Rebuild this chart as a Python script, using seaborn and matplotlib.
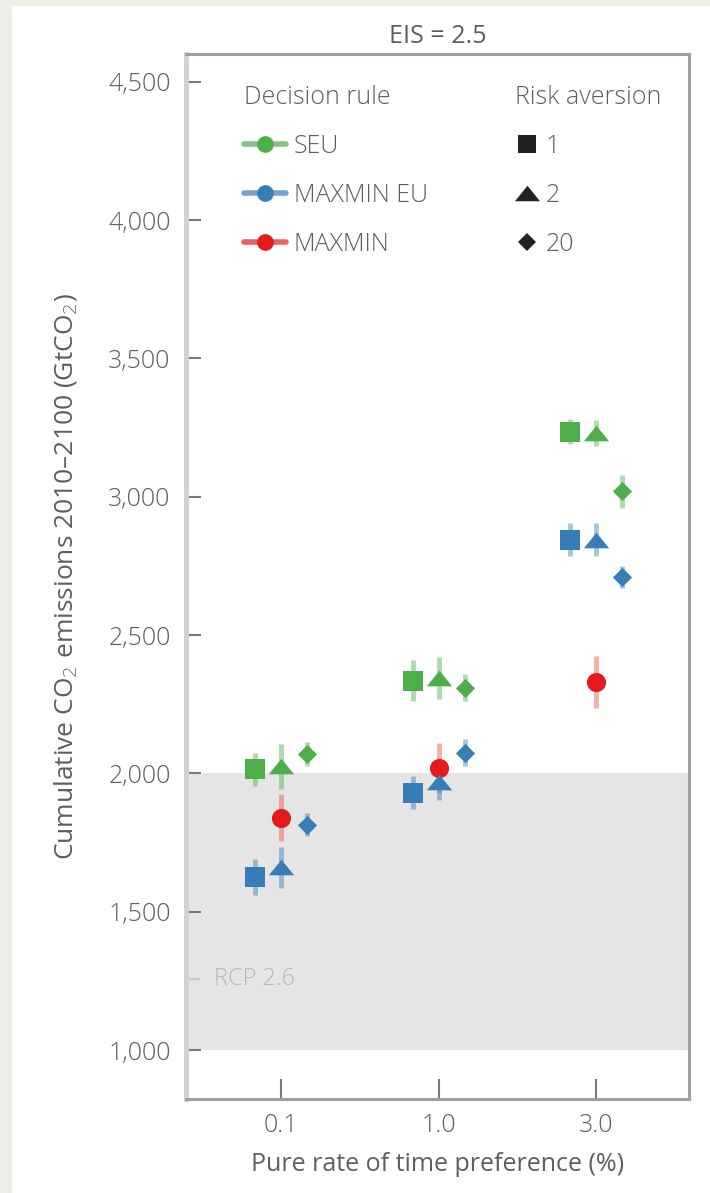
import matplotlib
matplotlib.use("Agg")
import matplotlib.pyplot as plt
from matplotlib.lines import Line2D
from matplotlib.patches import Rectangle
import seaborn as sns
import pandas as pd

# ---- data -------------------------------------------------------------
categories = ["0.1", "1.0", "3.0"]          # pure rate of time preference (%)
risk_levels = ["1", "2", "20"]               # risk aversion
rules = ["SEU", "MAXMIN EU", "MAXMIN"]       # decision rule

seu_ra1 = [2015, 2335, 3235]
seu_ra2 = [2025, 2345, 3230]
seu_ra20 = [2070, 2310, 3020]
seu_err_ra1 = [60, 75, 45]
seu_err_ra2 = [80, 75, 48]
seu_err_ra20 = [45, 50, 60]

mmeu_ra1 = [1625, 1930, 2845]
mmeu_ra2 = [1660, 1970, 2845]
mmeu_ra20 = [1815, 2075, 2710]
mmeu_err_ra1 = [65, 60, 60]
mmeu_err_ra2 = [75, 65, 60]
mmeu_err_ra20 = [40, 48, 40]

maxmin_vals = [1840, 2020, 2330]
maxmin_err = [85, 90, 95]

rcp26_band = (1000, 2000)
rcp26_level = 1255
y_ticks = [1000, 1500, 2000, 2500, 3000, 3500, 4000, 4500]

# ---- tidy table ---------------------------------------------------------
rows = []
def add(rule, risk, vals, errs):
    for i, (v, e) in enumerate(zip(vals, errs)):
        rows.append(dict(rule=rule, risk=risk, cat=i, value=v, err=e))

add("SEU", "1", seu_ra1, seu_err_ra1)
add("SEU", "2", seu_ra2, seu_err_ra2)
add("SEU", "20", seu_ra20, seu_err_ra20)
add("MAXMIN EU", "1", mmeu_ra1, mmeu_err_ra1)
add("MAXMIN EU", "2", mmeu_ra2, mmeu_err_ra2)
add("MAXMIN EU", "20", mmeu_ra20, mmeu_err_ra20)
add("MAXMIN", "all", maxmin_vals, maxmin_err)
df = pd.DataFrame(rows)

dodge = {"1": -0.165, "2": 0.0, "20": 0.165, "all": 0.0}
df["x"] = df["cat"] + df["risk"].map(dodge)

palette = {"SEU": "#4daf4a", "MAXMIN EU": "#377eb8", "MAXMIN": "#e41a1c"}
errcolor = {"SEU": "#4daf4a", "MAXMIN EU": "#377eb8", "MAXMIN": "#e8553a"}
# wide, flat triangle
tri = [(0, 0.62), (-1, -0.62), (1, -0.62)]
shape = {"1": ("s", 205), "2": (tri, 330), "20": ("D", 95), "all": ("o", 190)}

# ---- figure -------------------------------------------------------------
sns.set_theme(style="white")
plt.rcParams["font.family"] = ["Open Sans", "DejaVu Sans"]
plt.rcParams["font.weight"] = "light"
text_col = "#5e5e5e"
fs = 18

fig = plt.figure(figsize=(7.10, 11.93), dpi=100, facecolor="#eeeee6")
fig.patches.append(Rectangle((12 / 710, 0), 1, 1 - 6 / 1193, transform=fig.transFigure,
                             facecolor="white", edgecolor="none", zorder=-10))
ax = fig.add_axes([186 / 710, 1 - 1099 / 1193, (689 - 186) / 710, (1099 - 54) / 1193])
ax.set_facecolor("white")

ax.axhspan(*rcp26_band, color="#e5e5e5", zorder=0, lw=0)
ax.text(0.056, rcp26_level, "RCP 2.6", transform=ax.get_yaxis_transform(),
        color="#b8b8b8", fontsize=17, va="center", ha="left")

order = [("MAXMIN", "all"), ("SEU", "1"), ("SEU", "2"), ("SEU", "20"),
         ("MAXMIN EU", "1"), ("MAXMIN EU", "2"), ("MAXMIN EU", "20")]
for rule, risk in order:
    sub = df[(df.rule == rule) & (df.risk == risk)]
    ax.errorbar(sub["x"], sub["value"], yerr=sub["err"], fmt="none",
                ecolor=errcolor[rule], alpha=0.45, elinewidth=3.5, capsize=0, zorder=2)
    marker, size = shape[risk]
    sns.scatterplot(data=sub, x="x", y="value", ax=ax, color=palette[rule],
                    marker=marker, s=size, linewidth=0, zorder=3, legend=False)

ax.set_xlim(-0.603, 2.59)
ax.set_ylim(823, 4600)
ax.set_xticks(range(len(categories)))
ax.set_xticklabels(categories)
ax.set_yticks(y_ticks)
ax.set_yticklabels([f"{v:,}" for v in y_ticks])
ax.set_yticks([rcp26_level], minor=True)

ax.tick_params(axis="y", which="major", direction="in", length=11, width=1.5,
               color="#7a7a7a", pad=11, labelsize=fs, labelcolor=text_col, left=True)
ax.tick_params(axis="y", which="minor", direction="in", length=10, width=1.5,
               color="#c8c8c8", left=True)
ax.tick_params(axis="x", direction="in", length=14.5, width=1.5, color="#7a7a7a",
               pad=10, labelsize=fs, labelcolor=text_col, bottom=True)

for side in ["top", "right", "bottom"]:
    ax.spines[side].set_color("#a0a0a0")
    ax.spines[side].set_linewidth(2.2)
ax.spines["left"].set_color("#d2d2d2")
ax.spines["left"].set_linewidth(3.6)

ax.set_xlabel("Pure rate of time preference (%)", fontsize=fs, color=text_col, labelpad=10)
ax.set_ylabel("Cumulative CO$_2$ emissions 2010\u20132100 (GtCO$_2$)", fontsize=19,
              color=text_col, labelpad=21)
ax.set_title("EIS = 2.5", fontsize=fs, color=text_col, pad=8)

# ---- legends ----------------------------------------------------------------
rule_handles = [Line2D([], [], color=sns.light_palette(palette[r], 4)[2], lw=4,
                       marker="o", markersize=12, markerfacecolor=palette[r],
                       markeredgewidth=0) for r in rules]
leg1 = ax.legend(rule_handles, rules, title="Decision rule", loc="upper left",
                 bbox_to_anchor=(0.09, 0.982), frameon=False, fontsize=fs,
                 title_fontsize=fs, handlelength=1.7, handletextpad=0.3,
                 labelspacing=0.95, borderpad=0, alignment="left")
ax.add_artist(leg1)

risk_handles = [Line2D([], [], ls="none", color="#222222", marker=m, markersize=ms,
                       markeredgewidth=0)
                for m, ms in [("s", 13), (tri, 18), ("D", 9)]]
leg2 = ax.legend(risk_handles, risk_levels, title="Risk aversion", loc="upper left",
                 bbox_to_anchor=(0.63, 0.982), frameon=False, fontsize=fs,
                 title_fontsize=fs, handlelength=0.9, handletextpad=0.3,
                 labelspacing=0.95, borderpad=0, alignment="left")
for leg in (leg1, leg2):
    for t in leg.get_texts():
        t.set_color(text_col)
    leg.get_title().set_color(text_col)

fig.savefig("out.png", dpi=100, facecolor=fig.get_facecolor())
